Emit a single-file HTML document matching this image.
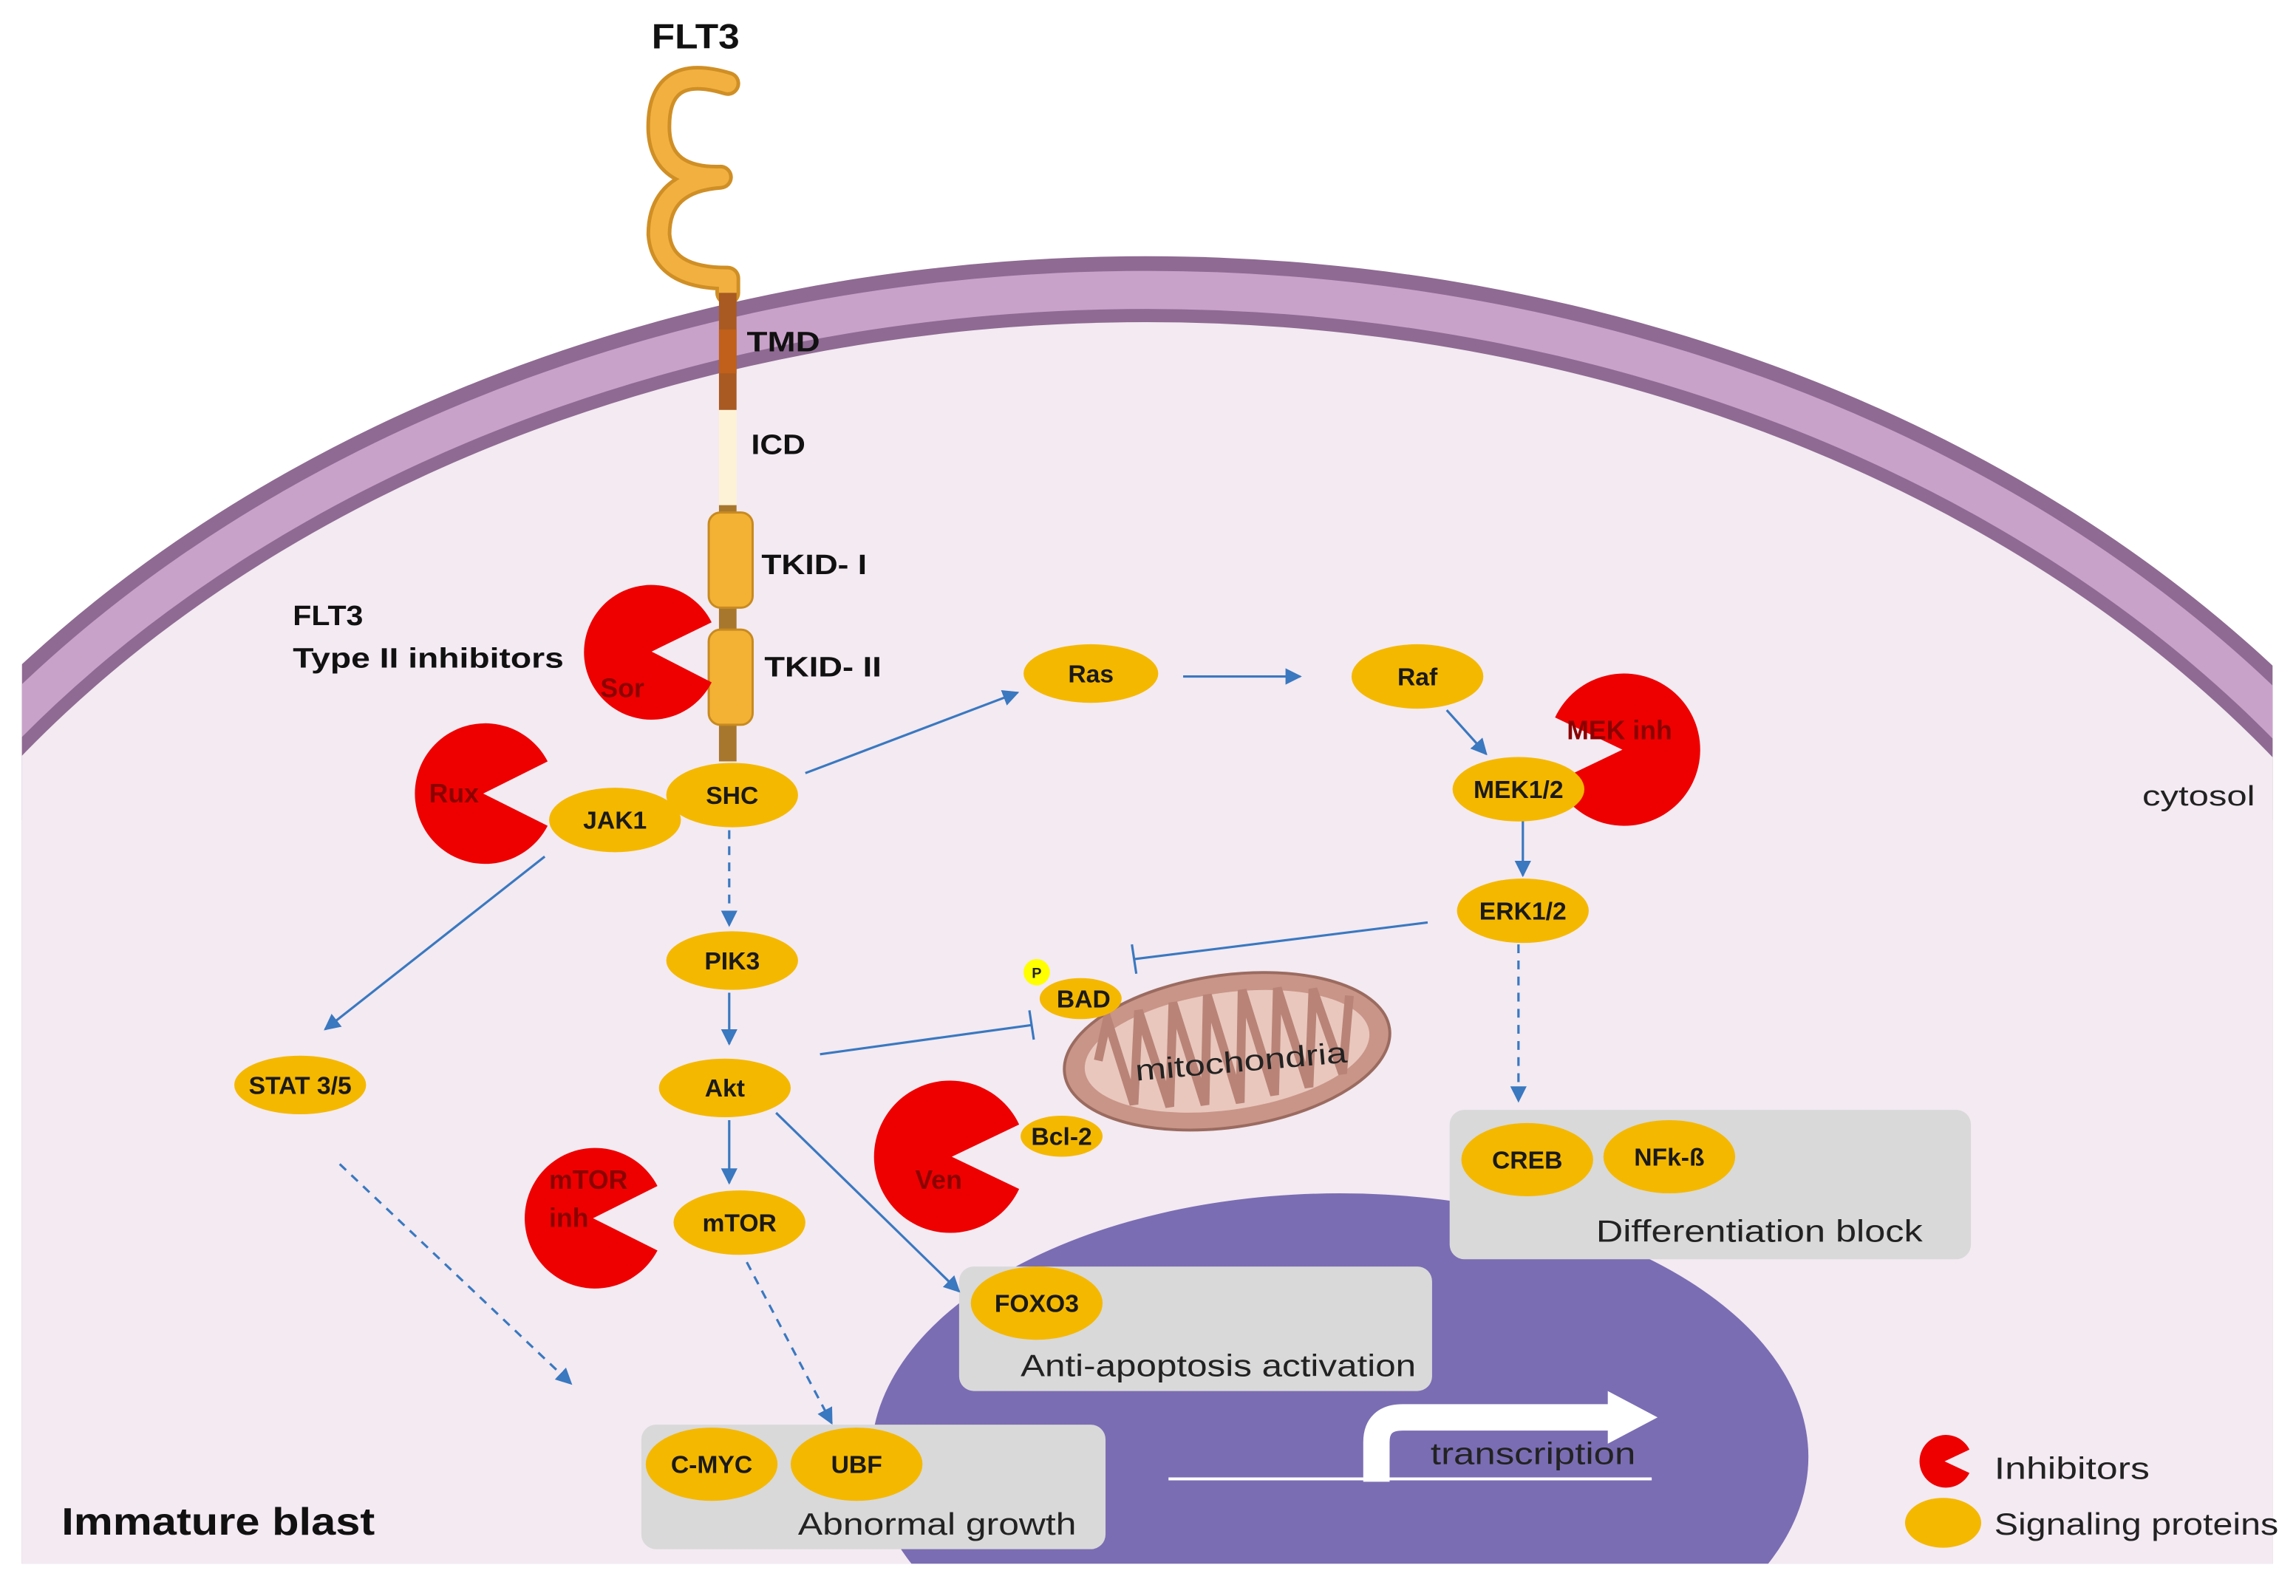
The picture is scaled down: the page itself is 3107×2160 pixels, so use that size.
<!DOCTYPE html>
<html><head><meta charset="utf-8"><style>
html,body{margin:0;padding:0;background:#fff;overflow:hidden;width:3107px;height:2160px;}
svg{display:block;}
text{font-family:"Liberation Sans",sans-serif;}
.b{font-weight:bold;fill:#111;}
.lbl{font-weight:bold;font-size:17px;fill:#1a1a1a;text-anchor:middle;}
.inh{font-weight:bold;font-size:18px;fill:#8b0000;}
</style></head><body>
<svg width="3107" height="2160" viewBox="0 0 1568 1090" preserveAspectRatio="none" xmlns="http://www.w3.org/2000/svg">
<defs>
<clipPath id="cell"><rect x="15" y="0" width="1537" height="1068"/></clipPath>
<marker id="ar" viewBox="0 0 10 10" refX="9" refY="5" markerWidth="7" markerHeight="7" orient="auto"><path d="M0,0 L10,5 L0,10 z" fill="#3a78c0"/></marker>
</defs>
<rect width="1568" height="1090" fill="#fff"/>
<g clip-path="url(#cell)">
<ellipse cx="783" cy="950" rx="1000" ry="775" fill="#8f6a93"/>
<ellipse cx="783" cy="950" rx="990" ry="765" fill="#c9a2ca"/>
<ellipse cx="783" cy="950" rx="964" ry="739" fill="#8f6a93"/>
<ellipse cx="783" cy="950" rx="955" ry="730" fill="#f3eaf2"/>
<rect x="15" y="560" width="1537" height="510" fill="#f3eaf2"/>
<ellipse cx="915" cy="995" rx="320" ry="180" fill="#7b6db3"/>
</g>
<rect x="0" y="1068" width="1568" height="22" fill="#fff"/>

<!-- receptor -->
<path d="M497,57 Q448,42 450,90 Q452,122 492,121 Q450,124 450,160 Q452,190 497,190 L497,200" fill="none" stroke="#d08f25" stroke-width="17" stroke-linecap="round" stroke-linejoin="round"/>
<path d="M497,57 Q448,42 450,90 Q452,122 492,121 Q450,124 450,160 Q452,190 497,190 L497,200" fill="none" stroke="#f2b040" stroke-width="12" stroke-linecap="round" stroke-linejoin="round"/>
<rect x="491" y="200" width="12" height="80" fill="#a85a22"/>
<rect x="491" y="225" width="12" height="30" fill="#c0601a"/>
<rect x="491" y="280" width="12" height="65" fill="#fdf2d6"/>
<rect x="491" y="345" width="12" height="175" fill="#a8772e"/>
<rect x="484" y="350" width="30" height="65" rx="8" fill="#f3b234" stroke="#c88a20" stroke-width="1.5"/>
<rect x="484" y="430" width="30" height="65" rx="8" fill="#f3b234" stroke="#c88a20" stroke-width="1.5"/>
<text x="445" y="33" class="b" font-size="24" textLength="60" lengthAdjust="spacingAndGlyphs">FLT3</text>
<text x="510" y="240" class="b" font-size="19" textLength="50" lengthAdjust="spacingAndGlyphs">TMD</text>
<text x="513" y="310" class="b" font-size="19" textLength="37" lengthAdjust="spacingAndGlyphs">ICD</text>
<text x="520" y="392" class="b" font-size="19" textLength="72" lengthAdjust="spacingAndGlyphs">TKID- I</text>
<text x="522" y="462" class="b" font-size="19" textLength="80" lengthAdjust="spacingAndGlyphs">TKID- II</text>
<text x="200" y="427" class="b" font-size="19" textLength="48" lengthAdjust="spacingAndGlyphs">FLT3</text>
<text x="200" y="456" class="b" font-size="19" textLength="185" lengthAdjust="spacingAndGlyphs">Type II inhibitors</text>
<text x="1463" y="550" font-size="19" fill="#222" textLength="77" lengthAdjust="spacingAndGlyphs">cytosol</text>

<!-- mitochondria -->
<g transform="rotate(-8 838 718)">
<ellipse cx="838" cy="718" rx="112" ry="52" fill="#c99588" stroke="#9b6b60" stroke-width="2"/>
<ellipse cx="838" cy="718" rx="98" ry="40" fill="#e9c7bd"/>
<path d="M750,712 L760,685 L770,745 L782,682 L794,750 L806,680 L818,752 L830,678 L842,754 L854,678 L866,752 L878,680 L890,750 L902,684 L914,744 L926,692" fill="none" stroke="#b98377" stroke-width="6"/>
</g>
<text x="775" y="732" font-size="20" fill="#222" textLength="145" lengthAdjust="spacingAndGlyphs" transform="rotate(-5 845 725)">mitochondria</text>

<!-- gray boxes -->
<rect x="990" y="758" width="356" height="102" rx="10" fill="#d9d9d9"/>
<rect x="655" y="865" width="323" height="85" rx="10" fill="#d9d9d9"/>
<rect x="438" y="973" width="317" height="85" rx="10" fill="#d9d9d9"/>
<text x="1090" y="848" font-size="21" fill="#222" textLength="223" lengthAdjust="spacingAndGlyphs">Differentiation block</text>
<text x="697" y="940" font-size="21" fill="#222" textLength="270" lengthAdjust="spacingAndGlyphs">Anti-apoptosis activation</text>
<text x="545" y="1048" font-size="21" fill="#222" textLength="190" lengthAdjust="spacingAndGlyphs">Abnormal growth</text>

<!-- transcription -->
<line x1="798" y1="1010" x2="1128" y2="1010" stroke="#fff" stroke-width="2"/>
<path d="M940,1012 L940,985 Q940,968 958,968 L1100,968" fill="none" stroke="#fff" stroke-width="18"/>
<path d="M1098,950 L1132,968 L1098,986 z" fill="#fff"/>
<text x="977" y="1000" font-size="21" fill="#222" textLength="140" lengthAdjust="spacingAndGlyphs">transcription</text>

<!-- connectors -->
<g stroke="#3a78c0" stroke-width="1.6" fill="none">
<line x1="550" y1="528" x2="695" y2="473" marker-end="url(#ar)"/>
<line x1="808" y1="462" x2="888" y2="462" marker-end="url(#ar)"/>
<line x1="988" y1="485" x2="1015" y2="515" marker-end="url(#ar)"/>
<line x1="1040" y1="560" x2="1040" y2="598" marker-end="url(#ar)"/>
<line x1="975" y1="630" x2="775" y2="655"/>
<line x1="773" y1="645" x2="776" y2="665"/>
<line x1="1037" y1="645" x2="1037" y2="752" stroke-dasharray="6,5" marker-end="url(#ar)"/>
<line x1="498" y1="567" x2="498" y2="632" stroke-dasharray="6,5" marker-end="url(#ar)"/>
<line x1="498" y1="678" x2="498" y2="713" marker-end="url(#ar)"/>
<line x1="560" y1="720" x2="705" y2="700"/>
<line x1="703" y1="690" x2="706" y2="710"/>
<line x1="498" y1="765" x2="498" y2="808" marker-end="url(#ar)"/>
<line x1="530" y1="760" x2="655" y2="882" marker-end="url(#ar)"/>
<line x1="372" y1="585" x2="222" y2="703" marker-end="url(#ar)"/>
<line x1="232" y1="795" x2="390" y2="945" stroke-dasharray="6,5" marker-end="url(#ar)"/>
<line x1="510" y1="862" x2="568" y2="972" stroke-dasharray="6,5" marker-end="url(#ar)"/>
</g>

<!-- inhibitors (pacman) -->
<g fill="#ee0000">
<path d="M445,445 L486,425 A46,46 0 1 0 486,466 z"/>
<path d="M330,542 L374,520 A48,48 0 1 0 374,564 z"/>
<path d="M1108,512 L1062,490 A52,52 0 1 1 1062,534 z"/>
<path d="M405,832 L449,810 A48,48 0 1 0 449,854 z"/>
<path d="M650,790 L696,768 A52,52 0 1 0 696,812 z"/>
<path d="M1328,998 L1345,990 A18,18 0 1 0 1345,1006 z"/>
</g>
<text x="410" y="476" class="inh" font-size="25">Sor</text>
<text x="293" y="548" class="inh" font-size="18">Rux</text>
<text x="1070" y="505" class="inh" font-size="19">MEK inh</text>
<text x="375" y="812" class="inh" font-size="19">mTOR</text>
<text x="375" y="838" class="inh" font-size="19">inh</text>
<text x="625" y="812" class="inh" font-size="19">Ven</text>

<!-- signaling proteins -->
<g fill="#f5b800">
<ellipse cx="500" cy="543" rx="45" ry="22"/>
<ellipse cx="420" cy="560" rx="45" ry="22"/>
<ellipse cx="745" cy="460" rx="46" ry="20"/>
<ellipse cx="968" cy="462" rx="45" ry="22"/>
<ellipse cx="1037" cy="539" rx="45" ry="22"/>
<ellipse cx="1040" cy="622" rx="45" ry="22"/>
<ellipse cx="500" cy="656" rx="45" ry="20"/>
<ellipse cx="495" cy="743" rx="45" ry="20"/>
<ellipse cx="205" cy="741" rx="45" ry="20"/>
<ellipse cx="505" cy="835" rx="45" ry="22"/>
<ellipse cx="738" cy="682" rx="28" ry="14"/>
<ellipse cx="725" cy="776" rx="28" ry="14"/>
<ellipse cx="708" cy="890" rx="45" ry="25"/>
<ellipse cx="1043" cy="792" rx="45" ry="25"/>
<ellipse cx="1140" cy="790" rx="45" ry="25"/>
<ellipse cx="486" cy="1000" rx="45" ry="25"/>
<ellipse cx="585" cy="1000" rx="45" ry="25"/>
<ellipse cx="1327" cy="1040" rx="26" ry="17"/>
</g>
<circle cx="708" cy="664" r="9" fill="#ffff00"/>
<text x="708" y="668" font-size="10" font-weight="bold" text-anchor="middle" fill="#222">P</text>
<text x="500" y="549" class="lbl">SHC</text>
<text x="420" y="566" class="lbl">JAK1</text>
<text x="745" y="466" class="lbl">Ras</text>
<text x="968" y="468" class="lbl">Raf</text>
<text x="1037" y="545" class="lbl">MEK1/2</text>
<text x="1040" y="628" class="lbl">ERK1/2</text>
<text x="500" y="662" class="lbl">PIK3</text>
<text x="495" y="749" class="lbl">Akt</text>
<text x="205" y="747" class="lbl">STAT 3/5</text>
<text x="505" y="841" class="lbl">mTOR</text>
<text x="740" y="688" class="lbl">BAD</text>
<text x="725" y="782" class="lbl">Bcl-2</text>
<text x="708" y="896" class="lbl">FOXO3</text>
<text x="1043" y="798" class="lbl">CREB</text>
<text x="1140" y="796" class="lbl">NFk-ß</text>
<text x="486" y="1006" class="lbl">C-MYC</text>
<text x="585" y="1006" class="lbl">UBF</text>

<text x="42" y="1048" class="b" font-size="26" textLength="214" lengthAdjust="spacingAndGlyphs">Immature blast</text>
<text x="1362" y="1010" font-size="21" fill="#222" textLength="106" lengthAdjust="spacingAndGlyphs">Inhibitors</text>
<text x="1362" y="1048" font-size="21" fill="#222" textLength="194" lengthAdjust="spacingAndGlyphs">Signaling proteins</text>
</svg>
</body></html>
